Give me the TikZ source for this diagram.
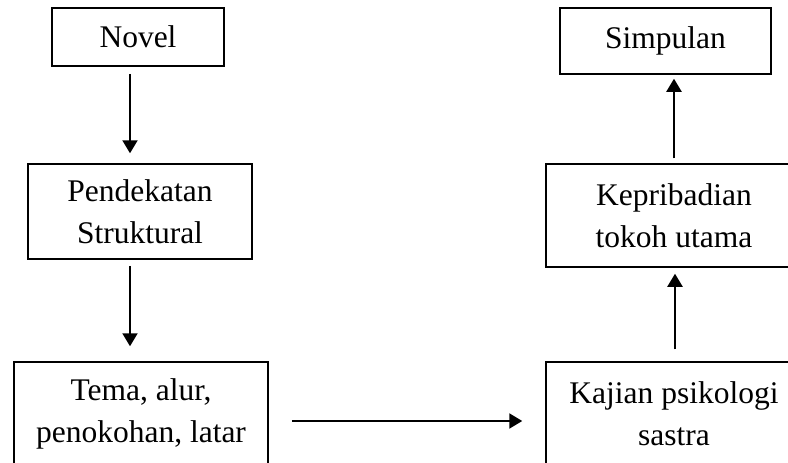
\documentclass[tikz,border=0pt]{standalone}
\usepackage{fontspec}
\setmainfont{Liberation Serif}
\usetikzlibrary{arrows.meta}
\begin{document}
\begin{tikzpicture}[x=1pt,y=-1pt,
  box/.style={draw=black, line width=1.5pt, inner sep=0pt, align=center,
    font={\fontsize{31.5pt}{42pt}\selectfont}},
  arr/.style={line width=2pt, -{Triangle[length=13pt,width=15pt]}}]
\useasboundingbox (0,0) rectangle (788,463);
\clip (0,0) rectangle (788,463);
\fill[white] (0,0) rectangle (788,463);
% left column
\node[box, minimum width=172pt, minimum height=58pt] (novel) at (138,37) {Novel};
\node[box, minimum width=224pt, minimum height=95pt] (pend) at (140,211.5) {Pendekatan\\Struktural};
\node[box, minimum width=254pt, minimum height=103pt] (tema) at (141,413.5) {Tema, alur,\\penokohan, latar};
% right column
\node[box, minimum width=211pt, minimum height=66pt] (simp) at (665.5,41) {Simpulan};
\node[box, minimum width=256pt, minimum height=103pt] (kep) at (674,215.5) {Kepribadian\\tokoh utama};
\node[box, minimum width=256pt, minimum height=103pt] (kaj) at (674,413.5) {Kajian psikologi\\sastra};
% connectors
\draw[arr, shorten <=7pt, shorten >=10pt] ([xshift=-8pt]novel.south) -- ([xshift=-10pt]pend.north);
\draw[arr, shorten <=6pt, shorten >=15pt] ([xshift=-10pt]pend.south) -- ([xshift=-11pt]tema.north);
\draw[arr, shorten <=23pt, shorten >=23pt] ([yshift=-7.5pt]tema.east) -- ([yshift=-7.5pt]kaj.west);
\draw[arr, shorten <=12pt, shorten >=6pt] ([xshift=1pt]kaj.north) -- ([xshift=1pt]kep.south);
\draw[arr, shorten <=5pt, shorten >=4pt] (kep.north) -- ([xshift=8.5pt]simp.south);
\end{tikzpicture}
\end{document}
